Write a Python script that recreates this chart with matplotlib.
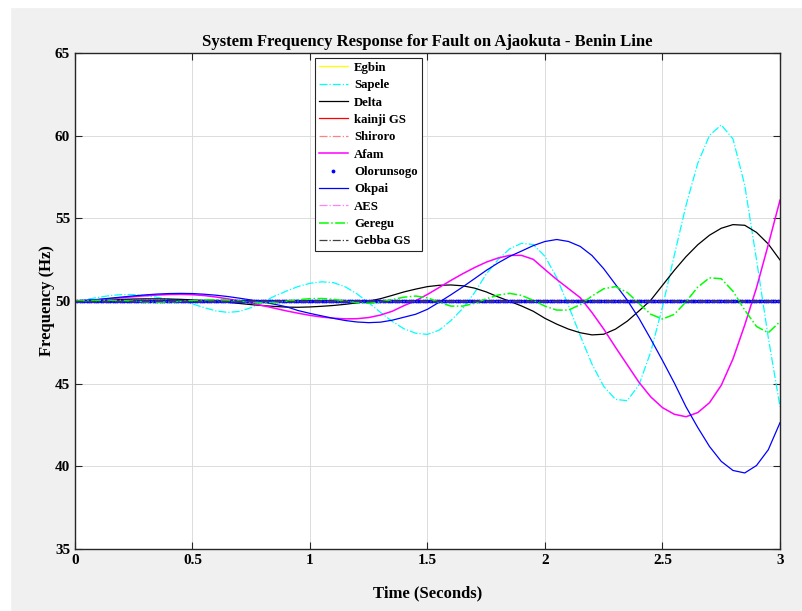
import numpy as np
import matplotlib
matplotlib.use('Agg')
import matplotlib.pyplot as plt
from matplotlib.patches import Rectangle

# time axis (s), readings every 0.05 s
t = np.round(np.arange(0, 3.0001, 0.05), 2)

sapele = [50.00, 50.10, 50.22, 50.33, 50.39, 50.39, 50.33, 50.22, 50.10, 50.00,
          49.82, 49.60, 49.40, 49.31, 49.37, 49.60, 49.95, 50.30, 50.60, 50.88,
          51.07, 51.16, 51.11, 50.86, 50.43, 49.89, 49.31, 48.76, 48.32, 48.05,
          47.98, 48.24, 48.82, 49.55, 50.50, 51.63, 52.50, 53.16, 53.49, 53.42,
          52.70, 51.41, 49.72, 47.90, 46.18, 44.83, 44.05, 43.97, 44.93, 46.92,
          49.65, 52.75, 55.78, 58.33, 60.02, 60.65, 59.80, 57.00, 52.50, 47.80,
          43.60]

delta = [50.00, 50.02, 50.05, 50.08, 50.10, 50.12, 50.13, 50.13, 50.12, 50.10,
         50.07, 50.03, 49.98, 49.92, 49.85, 49.78, 49.72, 49.67, 49.63, 49.62,
         49.64, 49.68, 49.73, 49.80, 49.89, 49.99, 50.14, 50.34, 50.55, 50.72,
         50.87, 50.95, 50.97, 50.92, 50.78, 50.55, 50.25, 49.98, 49.70, 49.38,
         48.95, 48.60, 48.30, 48.08, 47.95, 47.99, 48.30, 48.78, 49.40, 50.05,
         50.95, 51.85, 52.68, 53.40, 53.98, 54.40, 54.62, 54.58, 54.15, 53.45,
         52.48]

afam = [50.00, 50.03, 50.08, 50.14, 50.20, 50.26, 50.32, 50.36, 50.39, 50.40,
        50.38, 50.33, 50.24, 50.13, 50.00, 49.87, 49.72, 49.56, 49.40, 49.26,
        49.13, 49.03, 48.96, 48.92, 48.93, 49.00, 49.15, 49.38, 49.72, 50.02,
        50.40, 50.82, 51.25, 51.65, 52.02, 52.35, 52.60, 52.76, 52.76, 52.52,
        51.90, 51.30, 50.75, 50.20, 49.30, 48.30, 47.20, 46.14, 45.08, 44.20,
        43.55, 43.15, 43.00, 43.25, 43.85, 44.90, 46.50, 48.55, 50.80, 53.40,
        56.10]

okpai = [50.00, 50.04, 50.10, 50.17, 50.24, 50.31, 50.37, 50.42, 50.45, 50.46,
         50.45, 50.41, 50.35, 50.27, 50.17, 50.06, 49.94, 49.80, 49.65, 49.42,
         49.25, 49.10, 48.95, 48.82, 48.73, 48.69, 48.72, 48.84, 49.02, 49.20,
         49.50, 49.93, 50.38, 50.85, 51.35, 51.85, 52.30, 52.70, 53.02, 53.35,
         53.60, 53.72, 53.60, 53.30, 52.75, 51.95, 51.00, 50.05, 48.95, 47.70,
         46.40, 45.05, 43.60, 42.35, 41.20, 40.30, 39.75, 39.60, 40.05, 41.00,
         42.64]

geregu = [50.00, 50.02, 50.04, 50.05, 50.03, 49.99, 49.95, 49.93, 49.94, 49.98,
          50.03, 50.07, 50.08, 50.05, 49.99, 49.93, 49.90, 49.92, 49.99, 50.08,
          50.14, 50.15, 50.10, 50.00, 49.90, 49.86, 49.94, 50.09, 50.23, 50.30,
          50.19, 49.92, 49.69, 49.69, 49.86, 50.13, 50.36, 50.46, 50.34, 50.04,
          49.69, 49.45, 49.45, 49.78, 50.30, 50.74, 50.87, 50.52, 49.85, 49.20,
          48.91, 49.19, 49.95, 50.84, 51.40, 51.35, 50.59, 49.45, 48.46, 48.08,
          48.75]

# machines that stay at nominal frequency
egbin = [50.0] * len(t)
kainji = [50.0] * len(t)
shiroro = [50.0] * len(t)
aes = [50.0] * len(t)
gebba = [50.0] * len(t)
t_olo = np.linspace(0, 3, 301)
olorunsogo = [50.0] * len(t_olo)

plt.rcParams['font.family'] = ['Liberation Serif', 'DejaVu Serif']
plt.rcParams['font.weight'] = 'bold'

fig = plt.figure(figsize=(8.03, 6.11), dpi=100, facecolor='#f0f0f0')
fig.add_artist(Rectangle((0, 0), 10/803, 1, transform=fig.transFigure, color='white', zorder=0))
fig.add_artist(Rectangle((0, 1-7/611), 1, 7/611, transform=fig.transFigure, color='white', zorder=0))
ax = fig.add_axes([75/803, 62/611, 705/803, 496/611])

lw = 0.9
ax.plot(t, egbin, '-', color='#ffff00', lw=lw, label='Egbin')
ax.plot(t, sapele, '-.', color='#00ffff', lw=lw, label='Sapele')
ax.plot(t, delta, '-', color='black', lw=lw, label='Delta')
ax.plot(t, kainji, '-', color='#ff0000', lw=lw, label='kainji GS')
ax.plot(t, shiroro, '-.', color='#ff8080', lw=lw, label='Shiroro')
ax.plot(t, afam, '-', color='#ff00ff', lw=1.1, label='Afam')
ax.plot(t_olo, olorunsogo, '.', color='#0000ff', ms=3.5, label='Olorunsogo')
ax.plot(t, okpai, '-', color='#0000ff', lw=lw, label='Okpai')
ax.plot(t, aes, '-.', color='#ff80ff', lw=lw, label='AES')
ax.plot(t, geregu, '-.', color='#00ff00', lw=1.1, label='Geregu')
ax.plot(t, gebba, '-.', color='#404040', lw=lw, label='Gebba GS')

ax.set_xlim(0, 3)
ax.set_ylim(35, 65)
ax.set_xticks([0, 0.5, 1, 1.5, 2, 2.5, 3])
ax.set_xticklabels(['0', '0.5', '1', '1.5', '2', '2.5', '3'])
ax.set_yticks([35, 40, 45, 50, 55, 60, 65])
ax.grid(True, color='#dcdcdc', lw=0.7)
ax.set_axisbelow(True)
ax.tick_params(direction='in', top=True, right=True, labelsize=11, length=5, width=0.8, color='#262626')
for s in ax.spines.values():
    s.set_linewidth(1.0)
    s.set_color('#262626')

ax.set_title('System Frequency Response for Fault on Ajaokuta - Benin Line',
             fontsize=12, fontweight='bold', pad=5)
ax.set_xlabel('Time (Seconds)', fontsize=12, fontweight='bold', labelpad=13)
ax.set_ylabel('Frequency (Hz)', fontsize=12, fontweight='bold', labelpad=0)

leg = ax.legend(loc='upper left', bbox_to_anchor=(0.340, 0.99), fontsize=9.2,
                fancybox=False, framealpha=1, edgecolor='#262626',
                handlelength=2.3, labelspacing=0.42, borderpad=0.3,
                handletextpad=0.5, borderaxespad=0)
leg.get_frame().set_linewidth(0.8)

plt.savefig('out.png', dpi=100, facecolor=fig.get_facecolor())
